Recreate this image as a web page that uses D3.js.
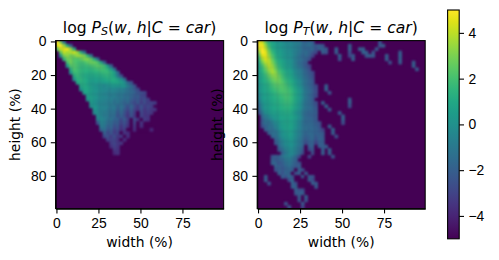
<!DOCTYPE html>
<html>
<head>
<meta charset="utf-8">
<script src="https://cdn.jsdelivr.net/npm/d3@7"></script>
<style>
  body { margin: 0; background: #fff; }
  svg { display: block; font-family: "DejaVu Sans", sans-serif; }
  .domain, .tick line { stroke: #000; stroke-width: 1.1; }
  .tick text { font-size: 13.9px; fill: #000; }
</style>
</head>
<body>
<svg id="chart" width="499" height="260"></svg>
<script>
// each row: [height %, first width %, log values every 2 % of width]
const sourceRows = [
  [0, 0, [5, 3, -1]],
  [2, 0, [4.5, 5, 3.5, 1, -2]],
  [4, 0, [2.5, 4.2, 4.5, 4.8, 3.4, 1]],
  [6, 2, [2.5, 4, 3.6, 3.8, 4.2, 3.3, 1.5, -1]],
  [8, 2, [0, 3, 3.3, 2.8, 3, 3.5, 3.4, 3, 1.5, -1]],
  [10, 4, [1.5, 2.8, 2.8, 2.3, 2.2, 2.5, 3, 3.1, 2.6, 1.2, -1.5]],
  [12, 6, [2, 2.8, 2.3, 2, 1.9, 2, 2.4, 2.7, 2.7, 2.2, 1, -2]],
  [14, 6, [0.5, 2.3, 2.3, 2, 1.7, 1.7, 1.8, 2, 2.2, 2.4, 2.3, 1.8, 0.5, -2]],
  [16, 8, [1.3, 2.2, 1.9, 1.6, 1.5, 1.5, 1.5, 1.7, 1.9, 2, 1.9, 1.5, 0.6, -1.5]],
  [18, 8, [0.2, 1.8, 1.8, 1.5, 1.3, 1.2, 1.2, 1.3, 1.4, 1.6, 1.7, 1.7, 1.4, 0.6, -1.5]],
  [20, 10, [1.2, 1.7, 1.4, 1.1, 1, 1, 1, 1.1, 1.2, 1.4, 1.5, 1.3, 0.8, -0.8, -2.5]],
  [22, 10, [0, 1.4, 1.5, 1.2, 0.9, 0.7, 0.6, 0.7, 0.8, 0.9, 1.1, 1.2, 1.2, 0.8, 0, -1.5]],
  [24, 12, [1, 1.3, 1.1, 0.8, 0.5, 0.4, 0.4, 0.4, 0.5, 0.6, 0.8, 0.9, 0.9, 0.6, 0, -1.5, -2.5]],
  [26, 14, [1, 1.1, 0.9, 0.6, 0.3, 0.1, 0, -0.3, 0, 0.2, 0.3, 0.3, 0.3, 0.2, -0.7, -1.5, -2.5]],
  [28, 14, [0.1, 0.9, 0.9, 0.6, 0.3, 0.1, -0.1, -0.3, -0.3, -0.4, -0.4, -0.5, -0.7, -0.9, -1.2, -1.7, -2.2, -2.8]],
  [30, 16, [0.7, 0.8, 0.5, 0.2, 0, -0.2, -0.4, -0.6, -0.6, -0.7, -0.8, -0.9, -1.1, -1.3, -1.6, -1.9, -2.4, -2.6, -3]],
  [32, 18, [0.7, 0.6, 0.3, 0, -0.2, -0.4, -0.5, -0.8, -0.7, -1, -1, -1.4, -1.3, -1.7, -2.2, -2, -2.8, -3]],
  [34, 18, [0.2, 0.6, 0.2, -0.1, -0.3, -0.5, -0.7, -0.6, -1.1, -0.9, -1.2, -1.6, -1.3, -2, -2.4, -2.2, -3, -2.6, -3.2]],
  [36, 20, [0.5, 0.1, -0.2, -0.4, -0.6, -0.8, -0.8, -1.3, -1, -1.4, -1.9, -1.5, -2.3, -2.8, -2.2, -3.2, -2.6, -3.2, -3, -3.2]],
  [38, 20, [0, 0.3, -0.1, -0.4, -0.6, -0.7, -1, -1, -1.6, -1.2, -1.8, -2.4, -1.7, -2.6, -3.2, -2.4, -3.2, -2.8, -3.2]],
  [40, 22, [0.2, -0.2, -0.5, -0.6, -0.9, -1.2, -1.1, -1.9, -1.4, -2.2, -2.8, -2, -3, -3.4, -2.6, -3.4, -3, -3.4, -3.4]],
  [42, 22, [-0.2, 0, -0.5, -0.8, -0.9, -1.3, -1.3, -2.2, -1.6, -2.4, -3.2, -2.2, -3.2, -5, -2.8, -3.4, -3.2, -3.4]],
  [44, 24, [-0.1, -0.5, -0.9, -1, -1.5, -1.5, -2.4, -1.9, -2.6, -3.4, -2.4, -3.4, -5, -3, -3.4, -3.4]],
  [46, 24, [-0.7, -0.3, -0.7, -1.2, -1.2, -1.8, -1.8, -2.8, -2.1, -3, -5, -2.7, -3.4, -5, -3.2, -3.5]],
  [48, 24, [-2.4, -0.5, -0.8, -1.4, -1.5, -2.1, -2, -3, -2.4, -3.2, -5, -3, -5, -3.4]],
  [50, 26, [-0.8, -1.1, -1.8, -1.7, -2.6, -2.3, -3.4, -2.8, -3.5, -5, -3.4, -5, -3.6]],
  [52, 26, [-1.8, -1.4, -2.2, -2, -3, -2.6, -3.6, -3.2, -5, -5, -3.6, -5, -5, -5, -5, -3.8]],
  [54, 28, [-1.9, -2.8, -2.3, -3.2, -2.8, -5, -3.4, -3.6]],
  [56, 28, [-2.8, -2.5, -3.2, -2.6, -3.4, -3.2, -5, -3.6]],
  [58, 30, [-3, -3, -3, -3.4, -5, -3.6]],
  [60, 32, [-3.2, -2.9, -3.4, -3.4]],
  [62, 32, [-3.6, -3.1, -3.4]],
  [64, 34, [-3.3, -3.5]],
  [66, 34, [-3.8, -3.5]]
];

const targetRows = [
  [0, 0, [4.6, 4.2, 2.6, 1.4, 0.9, 0.5, 0.3, 0, -0.2, -0.3, -0.5, -0.6, -0.8, -1.6, -1.7, -1.5, -2]],
  [2, 0, [4.8, 4.8, 3.4, 1.8, 1, 0.6, 0.4, 0.1, -0.1, -0.3, -0.5, -0.7, -0.9, -1.6, -1.5, -1.4, -1.8, -2.2, -2, -2.4]],
  [4, 0, [4.2, 5, 4, 2.4, 1.2, 0.8, 0.5, 0.2, 0, -0.2, -0.4, -0.6, -1, -1.5, -1.7, -1.8, -1.6, -2.4, -1.9, -1.8, -2.2]],
  [6, 0, [3.2, 5, 4.6, 3, 1.7, 1, 0.6, 0.3, 0.1, -0.1, -0.4, -0.7, -1.1, -1.6, -1.4, -1.9, -2.4, -2.8, -5, -2, -2.4]],
  [8, 0, [2.2, 4.4, 4.6, 3.4, 2.2, 1.3, 0.8, 0.4, 0.2, 0, -0.3, -0.7, -1.2, -1.8, -1.5, -2, -3]],
  [10, 0, [1.5, 3.6, 4.4, 3.8, 2.6, 1.6, 1, 0.6, 0.3, 0, -0.3, -0.8, -1.2, -1.6, -1.9, -2.5]],
  [12, 0, [1, 2.8, 3.8, 4, 3, 2, 1.2, 0.8, 0.5, 0.2, -0.2, -0.8, -1.5, -1.8, -2.2]],
  [14, 0, [0.8, 2, 3.2, 3.9, 3.4, 2.4, 1.5, 1, 0.6, 0.4, -0.1, -0.6, -1.2, -1.7, -2.2, -3]],
  [16, 0, [0.7, 1.6, 2.6, 3.5, 3.6, 2.8, 1.8, 1.3, 0.8, 0.6, 0.1, -0.4, -0.9, -1.4, -1.9, -2.6]],
  [18, 0, [0.6, 1.3, 2.1, 3, 3.6, 3.2, 2.2, 1.6, 1.1, 0.8, 0.4, -0.2, -0.7, -1.2, -1.7, -2.3, -2.8]],
  [20, 0, [0.6, 1.1, 1.7, 2.5, 3.1, 3.2, 2.6, 1.9, 1.3, 1, 0.6, 0.1, -0.5, -1, -1.5, -2, -2.6]],
  [22, 0, [0.5, 0.9, 1.4, 2, 2.6, 2.9, 2.7, 2.1, 1.6, 1.2, 0.8, 0.3, -0.3, -0.9, -1.4, -1.9, -2.5]],
  [24, 0, [0.4, 0.8, 1.2, 1.6, 2.2, 2.5, 2.6, 2.3, 1.8, 1.4, 1, 0.5, -0.1, -0.8, -1.3, -1.8, -2.3]],
  [26, 0, [0.3, 0.7, 1, 1.4, 1.9, 2.2, 2.3, 2.3, 2, 1.6, 1.2, 0.7, 0.1, -0.6, -1.2, -1.7, -2.2, -2.8]],
  [28, 0, [0.2, 0.6, 0.9, 1.2, 1.6, 1.9, 2.1, 2.2, 2.1, 1.8, 1.4, 0.9, 0.3, -0.4, -1.1, -1.6, -2.1, -2.7]],
  [30, 0, [0, 0.5, 0.8, 1, 1.3, 1.6, 1.9, 2, 2.1, 1.9, 1.5, 1, 0.4, -0.3, -1, -1.5, -2, -2.6]],
  [32, 0, [-0.3, 0.4, 0.7, 0.9, 1.1, 1.4, 1.6, 1.8, 2, 1.9, 1.5, 1, 0.4, -0.3, -1, -1.6, -2.1, -2.8]],
  [34, 0, [-0.6, 0.3, 0.6, 0.8, 1, 1.2, 1.4, 1.6, 1.9, 1.8, 1.5, 1, 0.4, -0.4, -1.1, -1.6, -2.2]],
  [36, 0, [-1, 0.1, 0.5, 0.7, 0.9, 1.1, 1.3, 1.5, 1.7, 1.7, 1.4, 0.9, 0.3, -0.5, -1.2, -1.6, -2, -2.6]],
  [38, 0, [-1.5, -0.2, 0.4, 0.6, 0.8, 1, 1.1, 1.3, 1.5, 1.5, 1.2, 0.8, 0.2, -0.6, -1.2, -1.5, -1.9, -2.4]],
  [40, 0, [-2, -0.5, 0.2, 0.5, 0.7, 0.9, 1, 1.1, 1.3, 1.3, 1, 0.6, 0, -0.8, -1.3, -1.6, -1.8, -2.2]],
  [42, 0, [-2.6, -1, 0, 0.4, 0.6, 0.7, 0.8, 0.9, 1.1, 1.1, 0.8, 0.3, -0.2, -1, -1.5, -1.8, -1.8, -2]],
  [44, 2, [-1.6, -0.8, -0.3, 0.2, 0.4, 0.6, 0.8, 0.9, 0.9, 0.8, 0.5, -0.1, -1, -1.6, -1.8, -2, -2.2]],
  [46, 2, [-2.2, -1.2, -0.8, -0.3, 0.2, 0.5, 0.7, 0.8, 0.8, 0.7, 0.4, -0.3, -1, -1.5, -1.7, -1.8, -2.2]],
  [48, 2, [-2, -1.3, -1.4, -0.8, -0.2, 0.2, 0.6, 0.8, 0.8, 0.7, 0.3, -0.4, -1.1, -1.6, -1.6, -1.7, -2, -2.5]],
  [50, 2, [-2.6, -1.8, -1.3, -1.2, -0.6, 0, 0.5, 0.7, 0.8, 0.6, 0.2, -0.5, -1.2, -1.4, -1.6, -1.7, -1.9, -2.4]],
  [52, 4, [-2, -1.4, -1.5, -1, -0.2, 0.3, 0.6, 0.7, 0.5, 0, -0.6, -1.2, -1.4, -1.7, -1.6, -1.8, -2.2, -3]],
  [54, 6, [-2, -1.4, -1.3, -0.6, 0.1, 0.4, 0.6, 0.4, -0.1, -0.7, -1.3, -1.7, -1.5, -1.7, -1.8, -2, -2.2]],
  [56, 8, [-1.7, -1.5, -0.8, -0.1, 0.3, 0.5, 0.3, -0.2, -0.8, -1.5, -1.9, -1.8, -1.6, -2.2, -1.9, -2.2]],
  [58, 10, [-1.8, -1.1, -0.4, 0.1, 0.3, 0.2, -0.3, -0.9, -1.6, -2.2, -1.8, -1.7, -2.4, -1.8, -2]],
  [60, 10, [-2.2, -1.4, -0.7, -0.1, 0.1, 0, -0.4, -1, -1.7, -2.6, -2, -1.9, -3, -2, -2]],
  [62, 12, [-1.7, -1, -0.3, -0.1, -0.1, -0.6, -1.2, -1.9, -5, -2.2, -2, -5, -2.2, -2]],
  [64, 12, [-2.2, -1.4, -0.6, -0.2, -0.2, -0.7, -1.3, -2.2, -5, -2.8, -2.2, -5, -5, -2]],
  [66, 14, [-1.8, -0.9, -0.4, -0.3, -0.8, -1.5, -2.6, -5, -5, -2.6, -5, -5, -2]],
  [68, 8, [-2.4, -2, -2, -1.3, -0.7, -0.5, -1, -1.6, -2.8, -5, -5, -3]],
  [70, 8, [-1.9, -2.2, -1.9, -1.7, -1, -0.8, -1.3, -1.8]],
  [72, 8, [-1.8, -1.8, -2.4, -2, -1.4, -1.1, -1.6, -2, -2.4]],
  [74, 10, [-1.9, -2, -2.2, -1.7, -1.4, -1.9, -2.2, -2]],
  [76, 10, [-2.4, -1.9, -2.2, -1.8, -1.6, -2, -5, -1.9, -2.4]],
  [78, 12, [-1.9, -2.4, -1.7, -1.9, -5, -2.4, -2, -5, -2.2]],
  [80, 14, [-2, -2.4, -1.6, -2.4, -5, -5, -2.2, -5, -2.2, -2.4]],
  [82, 18, [-2.4, -1.7, -5, -5, -5, -5, -2, -2.6]],
  [84, 20, [-1.8, -2.4, -5, -5, -5, -5, -2, -2.2]],
  [86, 20, [-1.9, -1.9, -5, -5, -5, -5, -5, -2.2]],
  [88, 22, [-1.8, -2.4, -2.4]],
  [90, 22, [-2.2, -2, -2]],
  [92, 24, [-2, -5, -2]],
  [94, 24, [-2.2, -5, -2.4]],
  [96, 26, [-2.2]],
  [98, 26, [-2.8]]
];

// isolated streaks outside the main mass
const targetStreaks = [
  [4, 46, [-2]], [6, 46, [-2]], [8, 48, [-1.9]], [10, 48, [-2.4]],
  [2, 54, [-2]], [4, 54, [-1.8]], [6, 54, [-2.6]], [8, 54, [-3]],
  [8, 56, [-2.2]], [10, 56, [-2]],
  [4, 60, [-2, -1.9]], [6, 62, [-1.8, -2]], [8, 64, [-2.2, -2]],
  [6, 68, [-2.4]], [4, 70, [-2.2]], [8, 68, [-2.2]], [2, 72, [-2.2, -2]],
  [0, 72, [-2.4]], [8, 76, [-2]], [10, 76, [-2]], [12, 78, [-2.6]],
  [6, 84, [-2.2]], [8, 84, [-1.8]], [10, 84, [-2]], [12, 84, [-2.2]],
  [12, 92, [-2]], [14, 92, [-1.9]], [16, 94, [-2.2]],
  [26, 40, [-2]], [28, 40, [-1.8]], [30, 42, [-2.4]],
  [34, 54, [-2.2]], [36, 54, [-1.9]], [38, 54, [-2.6]],
  [36, 38, [-2]], [38, 40, [-1.9]], [40, 42, [-2.2]],
  [42, 48, [-2.2]], [44, 50, [-2]], [46, 50, [-2]], [48, 50, [-2.6]],
  [50, 42, [-2]], [52, 44, [-1.9]], [54, 44, [-2]], [56, 46, [-2.6]],
  [62, 40, [-2]], [64, 42, [-1.9]], [66, 42, [-2]], [68, 44, [-2.4]],
  [80, 4, [-2.2]], [82, 4, [-2]], [84, 6, [-2.4]],
  [96, 16, [-2.4]], [98, 18, [-2.2]]
];

const xTicks = [0, 25, 50, 75];
const yTicks = [0, 20, 40, 60, 80];
const barTicks = [-4, -2, 0, 2, 4];
const valueRange = [-5, 5];
const cellSize = 2;

const size = 168;
const plotTop = 40.6;
const panels = [
  {id: 'source', left: 55.6, rows: sourceRows},
  {id: 'target', left: 257.2, rows: targetRows.concat(targetStreaks)}
];

const svg = d3.select('#chart');
const color = d3.scaleSequential(d3.interpolateViridis).domain(valueRange);

const defs = svg.append('defs');
defs.append('filter')
    .attr('id', 'soften')
    .attr('x', '-5%').attr('y', '-5%')
    .attr('width', '110%').attr('height', '110%')
    .attr('color-interpolation-filters', 'sRGB')
  .append('feGaussianBlur')
    .attr('stdDeviation', 1);

function drawPanel(p) {
    const x = d3.scaleLinear().domain([-0.5, 99.5]).range([p.left, p.left + size]);
    const y = d3.scaleLinear().domain([-0.5, 99.5]).range([plotTop, plotTop + size]);

    defs.append('clipPath').attr('id', `clip-${p.id}`)
      .append('rect')
        .attr('x', p.left).attr('y', plotTop)
        .attr('width', size).attr('height', size);

    const plot = svg.append('g').attr('clip-path', `url(#clip-${p.id})`);
    plot.append('rect')
        .attr('x', p.left).attr('y', plotTop)
        .attr('width', size).attr('height', size)
        .attr('fill', color(valueRange[0]));

    // flatten the rows into cells
    const cells = p.rows.flatMap(([h, w0, vals]) =>
        vals.map((v, i) => ({h, w: w0 + i * cellSize, v})));

    plot.append('g')
        .attr('filter', 'url(#soften)')
      .selectAll('rect')
      .data(cells)
      .join('rect')
        .attr('x', d => x(d.w - 0.5))
        .attr('y', d => y(d.h - 0.5))
        .attr('width', x(cellSize) - x(0) + 0.3)
        .attr('height', y(cellSize) - y(0) + 0.3)
        .attr('fill', d => color(d.v));

    svg.append('g')
        .attr('transform', `translate(0,${plotTop + size})`)
        .call(d3.axisBottom(x).tickValues(xTicks).tickSize(4.8).tickSizeOuter(0).tickPadding(4.4));
    svg.append('g')
        .attr('transform', `translate(${p.left},0)`)
        .call(d3.axisLeft(y).tickValues(yTicks).tickSize(4.8).tickSizeOuter(0).tickPadding(4.4));

    // close the frame
    svg.append('rect')
        .attr('x', p.left).attr('y', plotTop)
        .attr('width', size).attr('height', size)
        .attr('fill', 'none').attr('stroke', '#000').attr('stroke-width', 1.1);

    svg.append('text')
        .attr('x', p.left + size / 2).attr('y', 247)
        .attr('text-anchor', 'middle').attr('font-size', 13.9)
        .text('width (%)');
    svg.append('text')
        .attr('transform', `translate(${p.left - 35.5},${plotTop + size / 2}) rotate(-90)`)
        .attr('text-anchor', 'middle').attr('font-size', 13.9)
        .text('height (%)');

    const title = svg.append('text')
        .attr('x', p.left + size / 2).attr('y', 32.5)
        .attr('text-anchor', 'middle').attr('font-size', 15.6);
    title.append('tspan').text('log ');
    title.append('tspan').attr('font-style', 'italic').text('P');
    title.append('tspan').attr('font-style', 'italic').attr('font-size', 11).attr('dy', 2.5)
        .text(p.id === 'source' ? 'S' : 'T');
    title.append('tspan').attr('dy', -2.5).text('(');
    title.append('tspan').attr('font-style', 'italic').text('w');
    title.append('tspan').text(', ');
    title.append('tspan').attr('font-style', 'italic').text('h');
    title.append('tspan').text('|');
    title.append('tspan').attr('font-style', 'italic').text('C');
    title.append('tspan').text(' = ');
    title.append('tspan').attr('font-style', 'italic').text('car');
    title.append('tspan').text(')');
}

panels.forEach(drawPanel);

// colorbar
const barLeft = 447.6, barWidth = 11.6, barTop = 10, barBottom = 238.8;
const barScale = d3.scaleLinear().domain(valueRange).range([barBottom, barTop]);
const grad = defs.append('linearGradient')
    .attr('id', 'viridis')
    .attr('x1', 0).attr('y1', 1).attr('x2', 0).attr('y2', 0);
d3.range(0, 1.01, 0.05).forEach(t => {
    grad.append('stop').attr('offset', t).attr('stop-color', d3.interpolateViridis(t));
});
svg.append('rect')
    .attr('x', barLeft).attr('y', barTop)
    .attr('width', barWidth).attr('height', barBottom - barTop)
    .attr('fill', 'url(#viridis)')
    .attr('stroke', '#000').attr('stroke-width', 1.1);
const barAxis = svg.append('g')
    .attr('transform', `translate(${barLeft + barWidth},0)`)
    .call(d3.axisRight(barScale).tickValues(barTicks).tickSize(4.8).tickSizeOuter(0).tickPadding(4.4)
        .tickFormat(d => String(d).replace('-', '\u2212')));
barAxis.select('.domain').remove();
</script>
</body>
</html>
